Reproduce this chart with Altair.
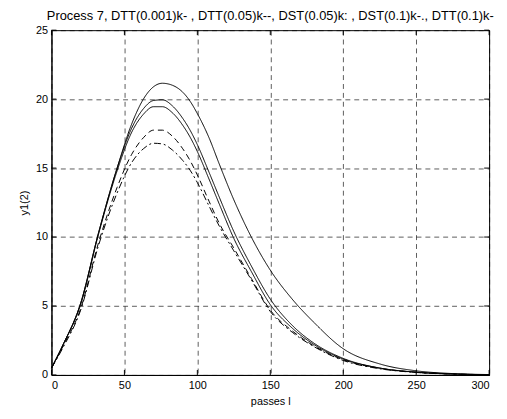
import altair as alt
import pandas as pd

# Data
x_vals = [0, 8, 20, 32, 45, 55, 63, 70, 76, 83, 90, 95, 100, 108, 115, 125, 137, 150, 165, 180, 200, 225, 250, 275, 300]

dtt_0001 = [0.5, 2.2, 5.2, 10.2, 15.0, 18.2, 20.0, 20.9, 21.15, 21.0, 20.5, 19.85, 18.95, 17.2, 15.3, 12.7, 10.0, 7.6, 5.5, 3.8, 1.9, 0.8, 0.3, 0.1, 0.03]
dst_005 = [0.5, 2.2, 5.2, 10.2, 15.0, 17.9, 19.3, 19.9, 19.95, 19.5, 18.6, 17.75, 16.7, 14.7, 12.9, 10.4, 7.9, 5.5, 3.6, 2.3, 1.2, 0.5, 0.2, 0.07, 0.02]
dtt_01 = [0.5, 2.2, 5.1, 10.1, 14.8, 17.6, 18.9, 19.45, 19.45, 19.0, 18.1, 17.25, 16.2, 14.2, 12.4, 9.9, 7.5, 5.1, 3.4, 2.2, 1.15, 0.5, 0.2, 0.07, 0.02]
dtt_005 = [0.5, 2.1, 4.8, 9.5, 13.6, 16.0, 17.2, 17.75, 17.75, 17.3, 16.4, 15.55, 14.5, 12.6, 11.0, 9.2, 7.0, 4.7, 3.2, 2.1, 1.1, 0.48, 0.19, 0.07, 0.02]
dst_01 = [0.5, 2.0, 4.7, 9.3, 13.2, 15.4, 16.4, 16.8, 16.75, 16.3, 15.55, 14.85, 13.95, 12.25, 10.8, 9.0, 6.9, 4.6, 3.1, 2.05, 1.05, 0.45, 0.18, 0.06, 0.02]

series_names = ["DTT(0.001)", "DST(0.05)", "DTT(0.1)", "DTT(0.05)", "DST(0.1)"]
series_values = [dtt_0001, dst_005, dtt_01, dtt_005, dst_01]
series_dash = [[1, 0], [1, 0], [1, 0], [6, 4], [7, 3, 2, 3]]

x_ticks = [0, 50, 100, 150, 200, 250, 300]
y_ticks = [0, 5, 10, 15, 20, 25]

title_text = "Process 7, DTT(0.001)k- , DTT(0.05)k--, DST(0.05)k: , DST(0.1)k-., DTT(0.1)k-"

rows = []
for name, vals in zip(series_names, series_values):
    for xv, yv in zip(x_vals, vals):
        rows.append({"l": xv, "y": yv, "series": name})
df = pd.DataFrame(rows)

W, H = 443, 349
FONT = "Arial, Liberation Sans, sans-serif"

xscale = alt.Scale(domain=[0, 300], nice=False, zero=False)
yscale = alt.Scale(domain=[0, 25], nice=False)

lines = alt.Chart(df).mark_line(color="black", strokeWidth=1, interpolate="monotone").encode(
    x=alt.X("l:Q", scale=xscale, title="passes l",
            axis=alt.Axis(values=x_ticks, grid=True, gridDash=[5, 4], gridColor="black",
                          gridWidth=0.8, gridOpacity=0.8, ticks=False, labelPadding=5,
                          domainColor="black", titlePadding=5)),
    y=alt.Y("y:Q", scale=yscale, title="y1(2)",
            axis=alt.Axis(values=y_ticks, grid=True, gridDash=[5, 4], gridColor="black",
                          gridWidth=0.8, gridOpacity=0.8, ticks=False, labelPadding=4,
                          domainColor="black", titlePadding=6)),
    strokeDash=alt.StrokeDash("series:N", scale=alt.Scale(domain=series_names, range=series_dash), legend=None),
    detail="series:N",
)

xt = pd.DataFrame({"t": x_ticks})
yt = pd.DataFrame({"t": y_ticks})

bottom_ticks = alt.Chart(xt).mark_rule(color="black", strokeWidth=1).encode(
    x=alt.X("t:Q", scale=xscale), y=alt.value(H), y2=alt.value(H - 5))
top_ticks = alt.Chart(xt).mark_rule(color="black", strokeWidth=1).encode(
    x=alt.X("t:Q", scale=xscale), y=alt.value(0), y2=alt.value(5))
left_ticks = alt.Chart(yt).mark_rule(color="black", strokeWidth=1).encode(
    y=alt.Y("t:Q", scale=yscale), x=alt.value(0), x2=alt.value(5))
right_ticks = alt.Chart(yt).mark_rule(color="black", strokeWidth=1).encode(
    y=alt.Y("t:Q", scale=yscale), x=alt.value(W), x2=alt.value(W - 5))

chart = alt.layer(lines, bottom_ticks, top_ticks, left_ticks, right_ticks).properties(
    width=W, height=H,
    title=alt.TitleParams(title_text, fontSize=13, font=FONT, fontWeight="normal",
                          anchor="middle", offset=0, dy=-1, color="black"),
    padding={"left": 44, "top": 20, "right": 10, "bottom": 30},
    autosize="none",
    background="white",
).configure_view(stroke="black", strokeWidth=1).configure_axis(
    labelFont=FONT, titleFont=FONT, labelFontSize=11, titleFontSize=11,
    titleFontWeight="normal", labelColor="black", titleColor="black",
)

chart.save("out.html", embed_options={"renderer": "svg", "actions": False})
